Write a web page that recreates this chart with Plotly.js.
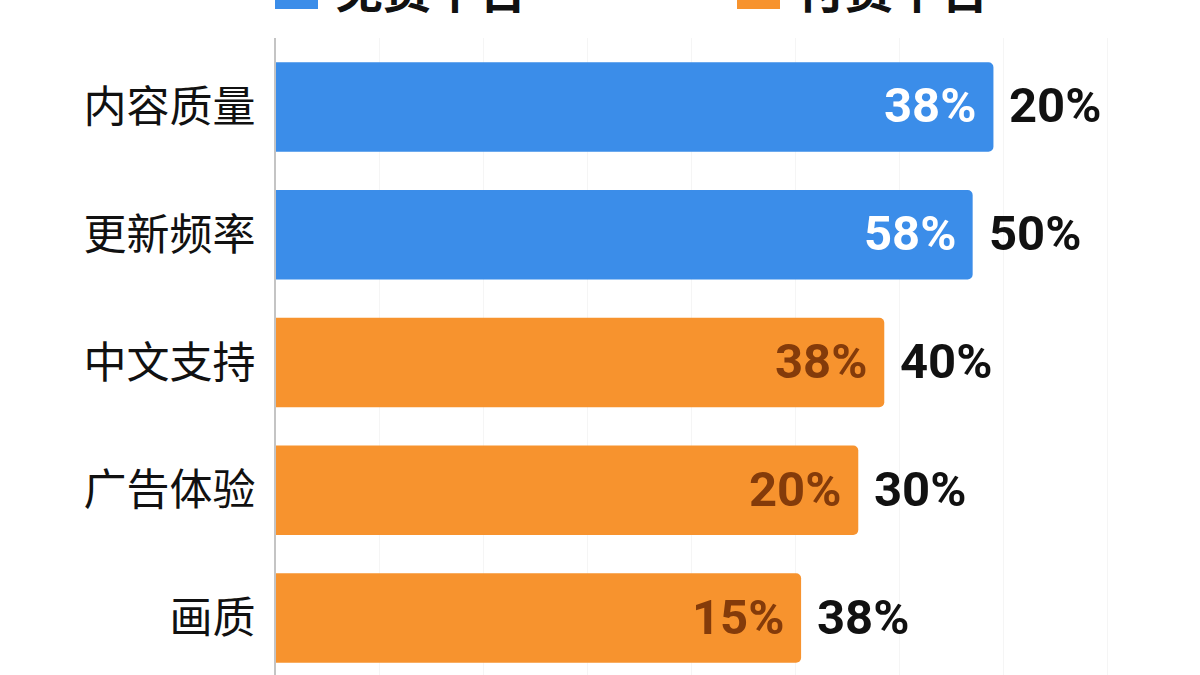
<!DOCTYPE html>
<html>
<head>
<meta charset="utf-8">
<script src="https://cdn.plot.ly/plotly-3.0.1.min.js"></script>
<style>
  html, body { margin: 0; padding: 0; background: #ffffff; }
  #chart { width: 1200px; height: 675px; }
</style>
</head>
<body>
<div id="chart"></div>
<script>
// chart data
var categories = ['内容质量', '更新频率', '中文支持', '广告体验', '画质'];
var barLength = [69, 67, 58.5, 56, 50.5];
var barGroup = ['免费平台', '免费平台', '付费平台', '付费平台', '付费平台'];
var innerLabels = ['38%', '58%', '38%', '20%', '15%'];
var outerLabels = ['20%', '50%', '40%', '30%', '38%'];

var seriesNames = ['免费平台', '付费平台'];
var seriesColors = ['#3b8de9', '#f7932e'];
var innerTextColors = ['#ffffff', 'rgba(112,44,4,0.85)'];

var numFont = 'Roboto, "Noto Sans CJK SC", sans-serif';
var cjkFont = '"Noto Sans CJK SC", "Noto Sans", sans-serif';

// plot box in pixels
var mL = 276, mR = 9, mT = 38, mB = 0;
var W = 1200 - mL - mR, H = 675 - mT - mB;
function px2x(p) { return (p - mL) / W; }
function px2y(p) { return 1 - (p - mT) / H; }

var traces = [];
var annotations = [];

for (var s = 0; s < seriesNames.length; s++) {
  var xs = [];
  for (var i = 0; i < categories.length; i++) {
    xs.push(barGroup[i] == seriesNames[s] ? barLength[i] : null);
  }
  traces.push({
    type: 'bar',
    orientation: 'h',
    name: seriesNames[s],
    y: categories,
    x: xs,
    width: 0.7,
    marker: { color: seriesColors[s], line: { width: 0 } },
    showlegend: false,
    hoverinfo: 'skip'
  });
}

for (var i = 0; i < categories.length; i++) {
  var si = seriesNames.indexOf(barGroup[i]);
  // label inside the end of the bar
  annotations.push({
    x: barLength[i], y: categories[i], xref: 'x', yref: 'y',
    text: innerLabels[i], showarrow: false,
    xanchor: 'right', yanchor: 'middle', xshift: -15, yshift: 1,
    font: { family: numFont, size: 49, weight: 700, color: innerTextColors[si] }
  });
  // label just past the bar
  annotations.push({
    x: barLength[i], y: categories[i], xref: 'x', yref: 'y',
    text: outerLabels[i], showarrow: false,
    xanchor: 'left', yanchor: 'middle', xshift: 14, yshift: 1,
    font: { family: numFont, size: 49, weight: 700, color: '#111111' }
  });
}

// legend drawn by hand (big squares, cut at the top of the picture)
var shapes = [];
var legendLeft = [275, 737];
for (var s = 0; s < seriesNames.length; s++) {
  shapes.push({
    type: 'rect', xref: 'paper', yref: 'paper',
    x0: px2x(legendLeft[s]), x1: px2x(legendLeft[s] + 43),
    y0: px2y(9), y1: px2y(-35),
    fillcolor: seriesColors[s], line: { width: 0 }
  });
  annotations.push({
    xref: 'paper', yref: 'paper',
    x: px2x(legendLeft[s] + 58), y: px2y(-13),
    xanchor: 'left', yanchor: 'middle',
    text: seriesNames[s], showarrow: false,
    font: { family: cjkFont, size: 48, weight: 700, color: '#111111' }
  });
}

var layout = {
  width: 1200,
  height: 675,
  margin: { l: mL, r: mR, t: mT, b: mB },
  paper_bgcolor: '#ffffff',
  plot_bgcolor: '#ffffff',
  barmode: 'overlay',
  barcornerradius: 5,
  showlegend: false,
  xaxis: {
    range: [0, 88],
    dtick: 10,
    showgrid: true,
    gridcolor: '#f5f5f5',
    gridwidth: 1,
    zeroline: false,
    showticklabels: false,
    showline: false,
    fixedrange: true
  },
  yaxis: {
    type: 'category',
    range: [4.446, -0.54],
    showgrid: false,
    zeroline: false,
    showline: true,
    linecolor: '#c4c4c4',
    linewidth: 2,
    ticks: '',
    ticklabelstandoff: 10,
    tickfont: { family: cjkFont, size: 43, weight: 400, color: '#111111' },
    fixedrange: true
  },
  shapes: shapes,
  annotations: annotations
};

Plotly.newPlot('chart', traces, layout, { displayModeBar: false, staticPlot: true });
</script>
</body>
</html>
